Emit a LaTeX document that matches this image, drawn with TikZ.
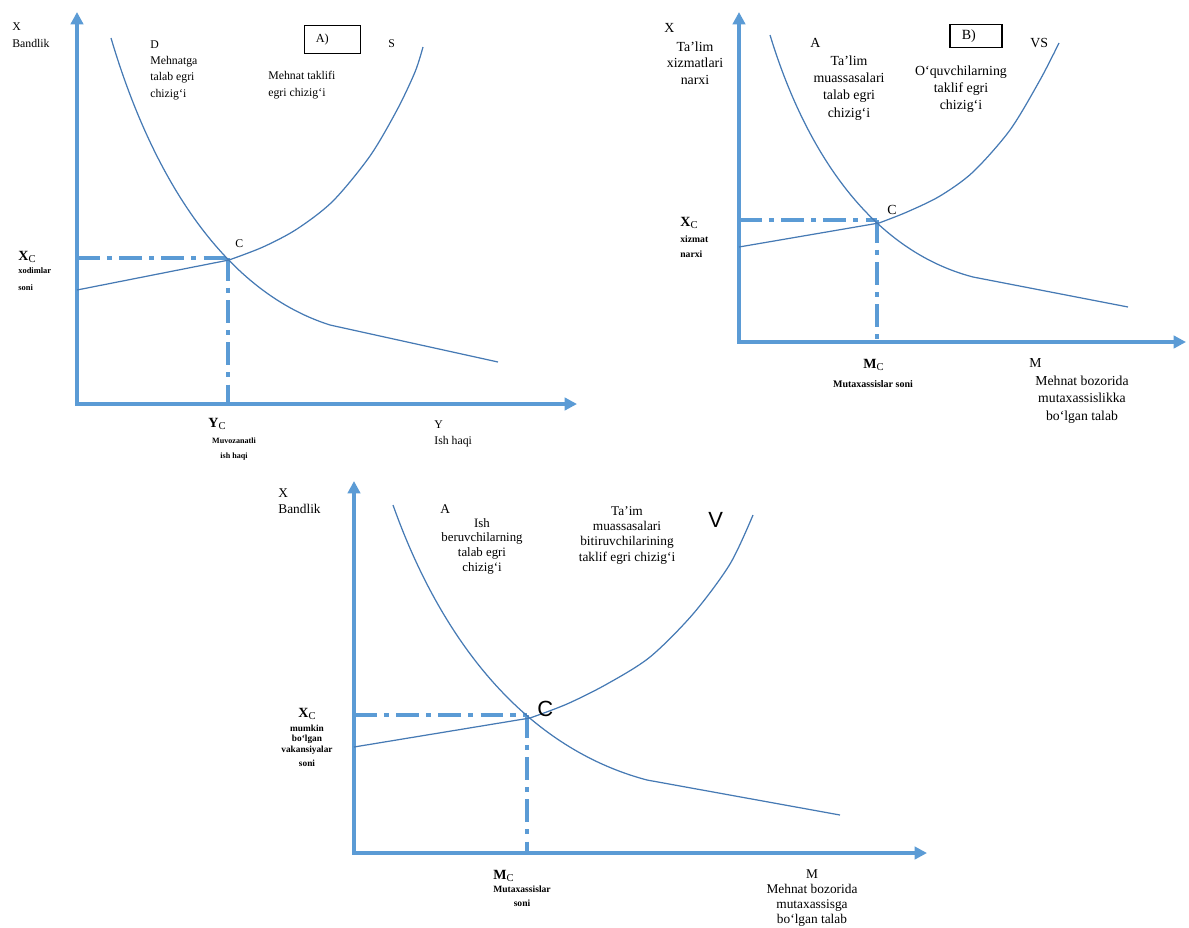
\documentclass[tikz,border=0pt]{standalone}
\usepackage{fontspec}
\setmainfont{Liberation Serif}
\newfontfamily\lsans{Liberation Sans}
\usetikzlibrary{arrows.meta}
\definecolor{axisblue}{RGB}{91,155,213}
\definecolor{curveblue}{RGB}{70,122,180}
\begin{document}
\begin{tikzpicture}[x=0.02cm,y=-0.02cm,
  axisline/.style={draw=axisblue,line width=1.9pt,line join=miter,
    {Triangle[length=7pt,width=7pt]}-{Triangle[length=7pt,width=7pt]}},
  guide/.style={draw=axisblue,line width=1.9pt,dash pattern=on 13pt off 4pt on 3pt off 4pt},
  curve/.style={draw=curveblue,line width=0.7pt,line join=round},
  lab/.style={inner sep=0pt,font=\fontsize{#1}{#1}\selectfont},
  mlab/.style 2 args={inner sep=0pt,font=\fontsize{#1}{#2}\selectfont},
  blab/.style 2 args={inner sep=0pt,font=\fontsize{#1}{#2}\selectfont\bfseries},
  xc/.style={inner sep=0pt,font=\fontsize{8}{8}\selectfont\bfseries},
  bigsans/.style={inner sep=0pt,font=\fontsize{12.5}{12.5}\lsans},
  tagbox/.style={draw=black,line width=0.85pt,inner ysep=0pt,align=left,anchor=north west}
]
\useasboundingbox (0,0) rectangle (1189,927);

% ================= Graph A =================
\coordinate (oA) at (77,404);
\coordinate (yA) at (77,12);
\coordinate (xA) at (577,404);
\coordinate (gA) at (228,258);
\coordinate (cA) at (229,260);
\draw[axisline] (yA) -- (oA) -- (xA);
\draw[guide] (gA -| oA) -- (gA);
\draw[guide] (gA) -- (gA |- oA);
\draw[curve] (111,38) .. controls (150,170) and (220,290) .. (330,325) -- (498,362);
\draw[curve] (77,290) -- (cA);
\draw[curve] plot[smooth,tension=0.5] coordinates {(229,260) (263,247) (297,229) (333,201) (370,156) (397,110) (415,72) (423,47)};

\node[mlab={6.7}{10.2},anchor=north west,align=left] (xlabA) at (12,22) {X\\Bandlik};
\node[mlab={6.7}{9.35},anchor=north west,align=left] (dlabA) at (150,40) {D\\Mehnatga\\talab egri\\chizig‘i};
\node[mlab={6.7}{9.6},anchor=north west,align=left] (slabA) at (268,71) {Mehnat taklifi\\egri chizig‘i};
\node[lab=6.7,anchor=base west] (sA) at (388,47) {S};
\node[lab=6.7,anchor=base west] (ctA) at (235,247) {C};
\node[tagbox,font=\fontsize{7}{7}\selectfont,minimum width=1.12cm,minimum height=0.56cm,inner xsep=0.22cm,text width=0.68cm] (boxA) at (304,25) {A)};
\node[xc,anchor=base west] (xcA) at (18,260) {X\textsubscript{\mdseries C}};
\node[blab={4.8}{9.6},anchor=north west,align=left] (xcdA) at (18,267) {xodimlar\\soni};
\node[xc,anchor=base west] (ycA) at (208,427) {Y\textsubscript{\mdseries C}};
\node[blab={4.6}{8.5},anchor=north,align=center] (ycdA) at (234,437.5) {Muvozanatli\\ish haqi};
\node[mlab={6.7}{9.6},anchor=north west,align=left] (ylabA) at (434,420) {Y\\Ish haqi};

% ================= Graph B =================
\coordinate (oB) at (739,342);
\coordinate (yB) at (739,12);
\coordinate (xB) at (1186,342);
\coordinate (gB) at (877,220);
\coordinate (cB) at (879,223);
\draw[axisline] (yB) -- (oB) -- (xB);
\draw[guide] (gB -| oB) -- (gB);
\draw[guide] (gB) -- (gB |- oB);
\draw[curve] (770,35) .. controls (805,150) and (870,250) .. (973,277) -- (1128,307);
\draw[curve] (739,247) -- (cB);
\draw[curve] plot[smooth,tension=0.5] coordinates {(879,223) (907,212) (940,196) (973,172) (1010,130) (1040,80) (1059,43)};

\node[lab=7.9,anchor=base west] (xB1) at (664,32) {X};
\node[mlab={7.9}{9.35},anchor=north,align=center] (xlabB) at (695,41.5) {Ta’lim\\xizmatlari\\narxi};
\node[lab=7.9,anchor=base west] (aB) at (810,47) {A};
\node[mlab={7.9}{9.8},anchor=north,align=center] (dlabB) at (849,55.5) {Ta’lim\\muassasalari\\talab egri\\chizig‘i};
\node[tagbox,font=\fontsize{8}{8}\selectfont,minimum width=1.04cm,minimum height=0.46cm,inner xsep=0.24cm,text width=0.56cm] (boxB) at (949,24) {B)};
\node[lab=7.9,anchor=base west] (vsB) at (1030,47) {VS};
\node[mlab={7.9}{9.6},anchor=north,align=center] (slabB) at (961,65.5) {O‘quvchilarning\\taklif egri\\chizig‘i};
\node[lab=7.9,anchor=base west] (ctB) at (887,214) {C};
\node[xc,anchor=base west] (xcB) at (680,226) {X\textsubscript{\mdseries C}};
\node[blab={5.5}{8.5},anchor=north west,align=left] (xcdB) at (680,235.5) {xizmat\\narxi};
\node[xc,anchor=base west] (mcB) at (863,368) {M\textsubscript{\mdseries C}};
\node[blab={5.7}{5.7},anchor=base] (mcdB) at (873,387) {Mutaxassislar soni};
\node[lab=7.8,anchor=base west] (mB) at (1029,367) {M};
\node[mlab={7.8}{9.9},anchor=north,align=center] (mlabB) at (1082,375.5) {Mehnat bozorida\\mutaxassislikka\\bo‘lgan talab};

% ================= Graph C =================
\coordinate (oC) at (354,853);
\coordinate (yC) at (354,481);
\coordinate (xC) at (927,853);
\coordinate (gC) at (527,715);
\coordinate (cC) at (530,718);
\draw[axisline] (yC) -- (oC) -- (xC);
\draw[guide] (gC -| oC) -- (gC);
\draw[guide] (gC) -- (gC |- oC);
\draw[curve] (393,505) .. controls (438,632) and (519,746) .. (647,780) -- (840,815);
\draw[curve] (354,747) -- (cC);
\draw[curve] plot[smooth,tension=0.5] coordinates {(530,718) (567,704) (607,684) (650,657) (693,614) (730,564) (753,515)};

\node[mlab={7.6}{9.1},anchor=north west,align=left] (xlabC) at (278,488) {X\\Bandlik};
\node[lab=7.6,anchor=base west] (aC) at (440,513) {A};
\node[mlab={7.3}{8.3},anchor=north,align=center] (dlabC) at (482,518) {Ish\\beruvchilarning\\talab egri\\chizig‘i};
\node[mlab={7.6}{8.7},anchor=north,align=center] (slabC) at (627,506) {Ta’im\\muassasalari\\bitiruvchilarining\\taklif egri chizig‘i};
\node[bigsans,anchor=base west] (vC) at (708,527) {V};
\node[bigsans,anchor=base west] (ctC) at (537,716) {C};
\node[xc,anchor=base west] (xcC) at (298,717) {X\textsubscript{\mdseries C}};
\node[blab={5.3}{6},anchor=north,align=center] (xcdC) at (307,724.5) {mumkin\\bo‘lgan\\vakansiyalar\\[2.2pt]soni};
\node[xc,anchor=base west] (mcC) at (493,879) {M\textsubscript{\mdseries C}};
\node[blab={5.45}{7.9},anchor=north,align=center] (mcdC) at (522,885.5) {Mutaxassislar\\soni};
\node[mlab={7.6}{8.7},anchor=north,align=center] (mlabC) at (812,869) {M\\Mehnat bozorida\\mutaxassisga\\bo‘lgan talab};
\end{tikzpicture}
\end{document}
